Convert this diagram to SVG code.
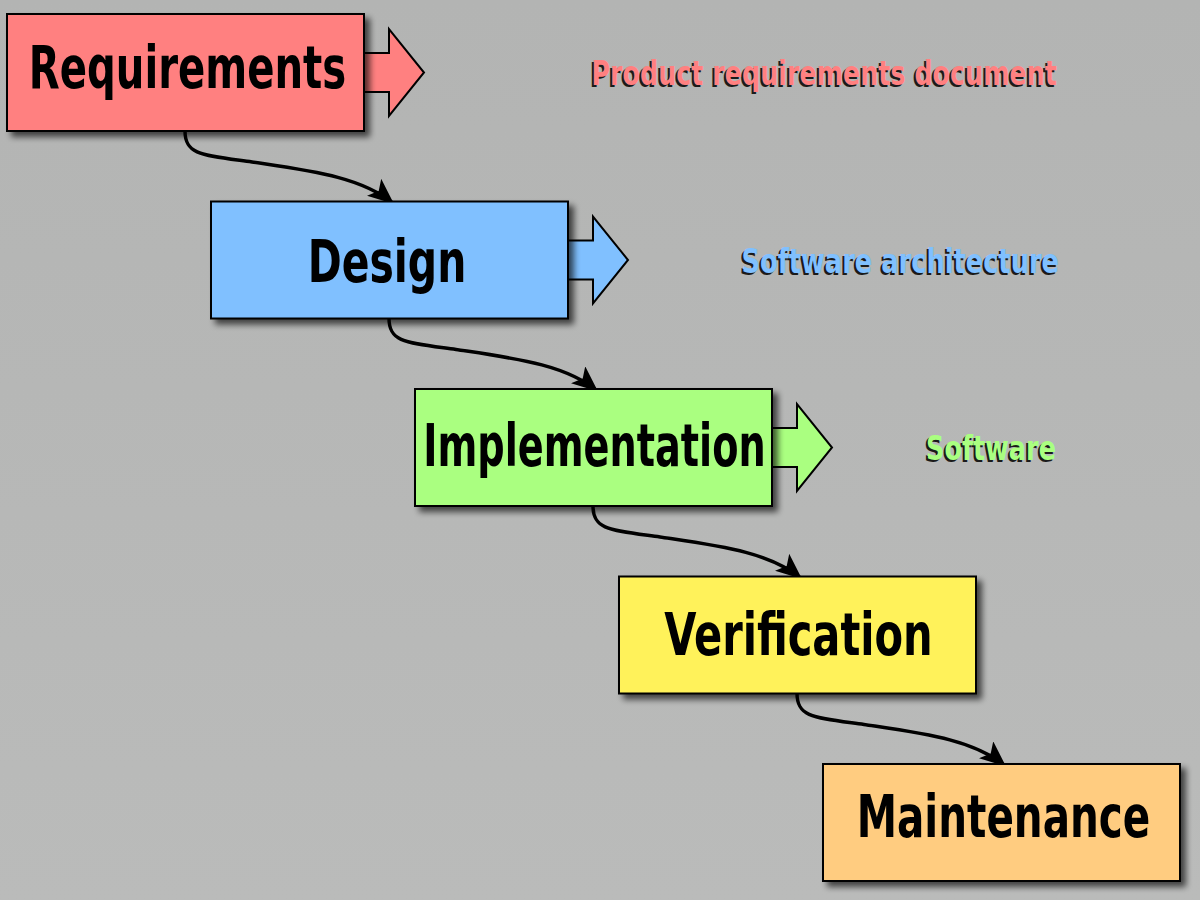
<svg xmlns="http://www.w3.org/2000/svg" width="1200" height="900" viewBox="0 0 1200 900">
<defs>
<style>
.box{stroke:#000;stroke-width:2}
.big{stroke:#000;stroke-width:2;stroke-linejoin:miter}
.t{font-family:"DejaVu Sans Condensed","DejaVu Sans",sans-serif;font-weight:bold;font-size:58px;text-anchor:middle;fill:#000}
.lbl{font-family:"DejaVu Sans Condensed","DejaVu Sans",sans-serif;font-weight:bold;font-size:33px;text-anchor:end}
.sh{fill:#1a1a1a}
.con{fill:none;stroke:#000;stroke-width:3.5}
</style>
<filter id="ds" x="-10%" y="-10%" width="130%" height="140%">
<feGaussianBlur in="SourceAlpha" stdDeviation="3"/>
<feOffset dx="5" dy="5" result="b"/>
<feComponentTransfer><feFuncA type="linear" slope="0.65"/></feComponentTransfer>
<feMerge><feMergeNode/><feMergeNode in="SourceGraphic"/></feMerge>
</filter>
<marker id="ah" markerUnits="userSpaceOnUse" markerWidth="28" markerHeight="24" refX="26" refY="11" orient="auto" viewBox="0 0 28 24">
<path d="M0,0 L26,11 L0,22 L6,11 Z" fill="#000"/>
</marker>
<linearGradient id="bg" x1="0" y1="0" x2="0" y2="1">
<stop offset="0" stop-color="#b3b4b3"/>
<stop offset="1" stop-color="#babbba"/>
</linearGradient>
</defs>
<rect width="1200" height="900" fill="url(#bg)"/>

<g id="connectors">
<path class="con" marker-end="url(#ah)" d="M185,131 C185,155 202,155 252,162 C312,171 362,177 394,204"/>
<path class="con" marker-end="url(#ah)" d="M389,318.5 C389,342.5 406,342.5 456,349.5 C516,358.5 566,364.5 598,391.5"/>
<path class="con" marker-end="url(#ah)" d="M593,506 C593,530 610,530 660,537 C720,546 770,552 802,579"/>
<path class="con" marker-end="url(#ah)" d="M797,693.5 C797,717.5 814,717.5 864,724.5 C924,733.5 974,739.5 1006,766.5"/>
</g>

<g id="requirements">
<path class="big" fill="#ff8080" d="M364,53 H389 V29 L424,72.5 L389,116 V92 H364 Z"/>
<rect class="box" x="7" y="14" width="357" height="117" fill="#ff8080" filter="url(#ds)"/>
<text class="t" transform="translate(187.5,88) scale(0.771,1)">Requirements</text>
</g>

<g id="design">
<path class="big" fill="#80c0ff" d="M568,240.5 H593 V216.5 L628,260 L593,303.5 V279.5 H568 Z"/>
<rect class="box" x="211" y="201.5" width="357" height="117" fill="#80c0ff" filter="url(#ds)"/>
<text class="t" transform="translate(387,282) scale(0.785,1)">Design</text>
</g>

<g id="implementation">
<path class="big" fill="#aaff80" d="M772,428 H797 V404 L832,447.5 L797,491 V467 H772 Z"/>
<rect class="box" x="415" y="389" width="357" height="117" fill="#aaff80" filter="url(#ds)"/>
<text class="t" transform="translate(594.5,466) scale(0.733,1)">Implementation</text>
</g>

<g id="verification">
<rect class="box" x="619" y="576.5" width="357" height="117" fill="#fff25a" filter="url(#ds)"/>
<text class="t" transform="translate(798.5,655) scale(0.797,1)">Verification</text>
</g>

<g id="maintenance">
<rect class="box" x="823" y="764" width="357" height="117" fill="#ffcc80" filter="url(#ds)"/>
<text class="t" transform="translate(1003.5,837) scale(0.776,1)">Maintenance</text>
</g>

<g id="labels">
<text class="lbl sh" transform="translate(1055,87) scale(0.855,1)">Product requirements document</text>
<text class="lbl" transform="translate(1057,85) scale(0.855,1)" fill="#ff8080">Product requirements document</text>
<text class="lbl sh" transform="translate(1057,274.5) scale(0.865,1)">Software architecture</text>
<text class="lbl" transform="translate(1059,272.5) scale(0.865,1)" fill="#80c0ff">Software architecture</text>
<text class="lbl sh" transform="translate(1054,462) scale(0.86,1)">Software</text>
<text class="lbl" transform="translate(1056,460) scale(0.86,1)" fill="#aaff80">Software</text>
</g>
</svg>
